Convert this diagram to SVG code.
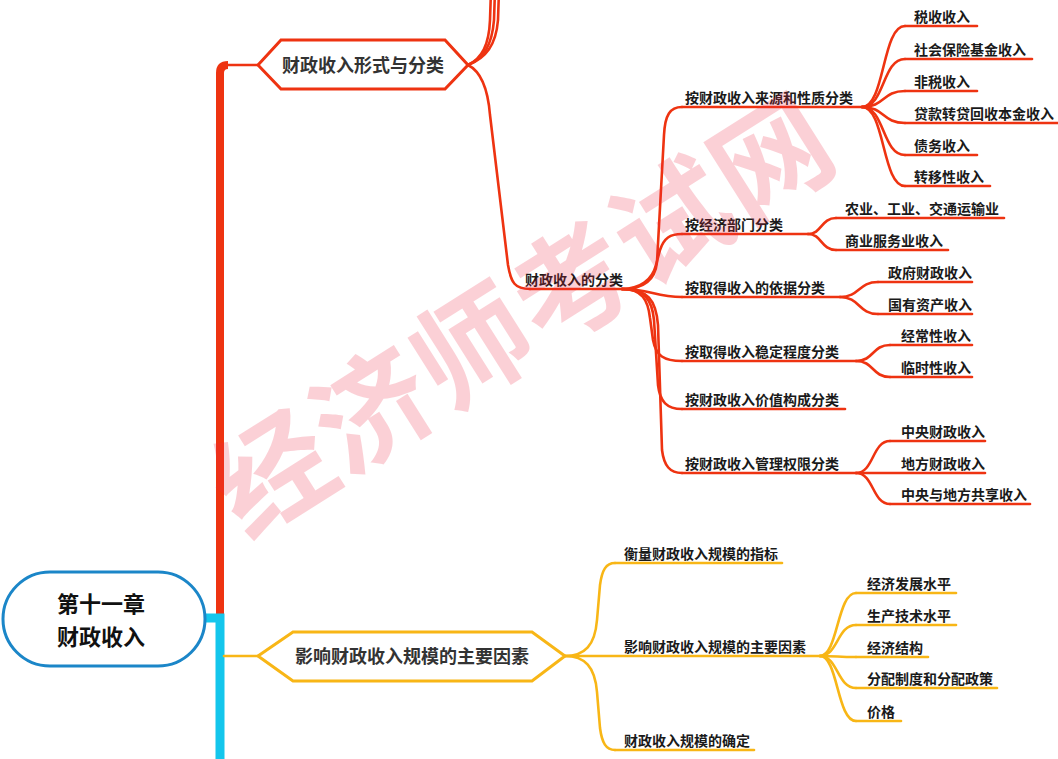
<svg xmlns="http://www.w3.org/2000/svg" width="1058" height="759" viewBox="0 0 1058 759">
<style>
.r{stroke:#ee3311;fill:none;stroke-width:2.6;stroke-linecap:round;stroke-linejoin:round}
.y{stroke:#f8b616;fill:none;stroke-width:2.6;stroke-linecap:round;stroke-linejoin:round}
.t{font-family:"Noto Sans CJK SC","Microsoft YaHei",sans-serif;font-size:14px;font-weight:700;fill:#1a1a1a}
.h{font-family:"Noto Sans CJK SC","Microsoft YaHei",sans-serif;font-size:18px;font-weight:700;fill:#333333;text-anchor:middle}
.root{font-family:"Noto Sans CJK SC","Microsoft YaHei",sans-serif;font-size:22px;font-weight:700;fill:#111111;text-anchor:middle}
.wm{font-family:"Noto Sans CJK SC",sans-serif;font-size:116px;font-weight:700;fill:#ee2844;opacity:0.21;text-anchor:middle}
</style>
<rect width="1058" height="759" fill="#ffffff"/>
<g id="connectors">
  <path d="M220,614 V73 Q220,65 228,65" fill="none" stroke="#ee3311" stroke-width="8"/>
  <path d="M205,618 H220 V765" fill="none" stroke="#14c6ec" stroke-width="9" stroke-linejoin="miter"/>
  <path class="r" d="M226,65 H258"/>
  <path class="y" d="M224,656 H258"/>
  <path class="r" d="M468,65 C482,58 489,45 490,20 L491,-10"/>
  <path class="r" d="M468,65 C484,58 492,45 494,20 L495,-10"/>
  <path class="r" d="M468,65 C486,58 496,45 498,20 L499,-10"/>
  <path class="r" d="M468,65 C482,72 488,90 490,115 L508,265 C511,283 515,289 530,289"/>
  <path class="r" d="M622,289 C642,289 655,282 657,262 L664,135 C665,115 670,107 682,107"/>
  <path class="r" d="M622,289 C640,289 652,280 656,265 L660,250 C664,238 670,234 682,234"/>
  <path class="r" d="M622,289 C650,289 655,297 682,297"/>
  <path class="r" d="M622,289 C642,289 648,300 650,318 L653,340 C656,356 664,361 682,361"/>
  <path class="r" d="M622,289 C645,289 652,300 654,320 L658,385 C660,402 667,409 682,409"/>
  <path class="r" d="M622,289 C648,289 656,300 658,325 L662,450 C664,466 670,473 682,473"/>
  <path class="r" d="M862,107 C885,107 882,26 905,26"/>
  <path class="r" d="M862,107 C885,107 882,59 905,59"/>
  <path class="r" d="M862,107 C885,107 882,91 905,91"/>
  <path class="r" d="M862,107 C885,107 882,123 905,123"/>
  <path class="r" d="M862,107 C885,107 882,155 905,155"/>
  <path class="r" d="M862,107 C885,107 882,186 905,186"/>
  <path class="r" d="M808,234 C822,234 821,218 836,218"/>
  <path class="r" d="M808,234 C822,234 821,250 836,250"/>
  <path class="r" d="M840,297 C860,297 858,282 878,282"/>
  <path class="r" d="M840,297 C860,297 858,314 878,314"/>
  <path class="r" d="M856,361 C874,361 872,345 890,345"/>
  <path class="r" d="M856,361 C874,361 872,377 890,377"/>
  <path class="r" d="M856,473 C874,473 872,441 890,441"/>
  <path class="r" d="M856,473 C874,473 872,504 890,504"/>
  <path class="y" d="M565,656 C585,656 595,645 597,620 L600,585 C602,570 606,563 615,563"/>
  <path class="y" d="M565,656 C585,656 595,667 597,692 L600,728 C602,743 606,750 615,750"/>
  <path class="y" d="M820,656 C838,656 837,593 856,593"/>
  <path class="y" d="M820,656 C838,656 837,625 856,625"/>
  <path class="y" d="M820,656 C838,656 837,657 856,657"/>
  <path class="y" d="M820,656 C838,656 837,688 856,688"/>
  <path class="y" d="M820,656 C838,656 837,721 856,721"/>
</g>
<g id="root">
  <rect x="3" y="572" width="202" height="94" rx="47" fill="#ffffff" stroke="#1b86c8" stroke-width="3"/>
  <text class="root" x="101" y="612">第十一章</text>
  <text class="root" x="101" y="645">财政收入</text>
</g>
<g id="n-xingshi">
  <polygon points="258,65 281,40 445,40 468,65 445,89 281,89" fill="#ffffff" stroke="#ee3311" stroke-width="3"/>
  <text class="h" x="363" y="72">财政收入形式与分类</text>
</g>
<g id="n-fenlei"><path class="r" d="M530,289 H622"/><text class="t" x="525" y="285">财政收入的分类</text></g>
<g id="n-laiyuan"><path class="r" d="M682,107 H862"/><text class="t" x="685" y="103">按财政收入来源和性质分类</text></g>
<g id="n-shui"><path class="r" d="M905,26 H977"/><text class="t" x="914" y="22">税收收入</text></g>
<g id="n-shebao"><path class="r" d="M905,59 H1032"/><text class="t" x="914" y="55">社会保险基金收入</text></g>
<g id="n-feishui"><path class="r" d="M905,91 H977"/><text class="t" x="914" y="87">非税收入</text></g>
<g id="n-daikuan"><path class="r" d="M905,123 H1060"/><text class="t" x="914" y="119">贷款转贷回收本金收入</text></g>
<g id="n-zhaiwu"><path class="r" d="M905,155 H977"/><text class="t" x="914" y="151">债务收入</text></g>
<g id="n-zhuanyi"><path class="r" d="M905,186 H990"/><text class="t" x="914" y="182">转移性收入</text></g>
<g id="n-bumen"><path class="r" d="M682,234 H808"/><text class="t" x="685" y="230">按经济部门分类</text></g>
<g id="n-nongye"><path class="r" d="M836,218 H1004"/><text class="t" x="845" y="214">农业、工业、交通运输业</text></g>
<g id="n-shangye"><path class="r" d="M836,250 H948"/><text class="t" x="845" y="246">商业服务业收入</text></g>
<g id="n-yiju"><path class="r" d="M682,297 H840"/><text class="t" x="685" y="293">按取得收入的依据分类</text></g>
<g id="n-zhengfu"><path class="r" d="M878,282 H972"/><text class="t" x="888" y="278">政府财政收入</text></g>
<g id="n-guoyou"><path class="r" d="M878,314 H972"/><text class="t" x="888" y="310">国有资产收入</text></g>
<g id="n-wending"><path class="r" d="M682,361 H856"/><text class="t" x="685" y="357">按取得收入稳定程度分类</text></g>
<g id="n-jingchang"><path class="r" d="M890,345 H972"/><text class="t" x="901" y="341">经常性收入</text></g>
<g id="n-linshi"><path class="r" d="M890,377 H972"/><text class="t" x="901" y="373">临时性收入</text></g>
<g id="n-jiazhi"><path class="r" d="M682,409 H845"/><text class="t" x="685" y="405">按财政收入价值构成分类</text></g>
<g id="n-quanxian"><path class="r" d="M682,473 H856"/><text class="t" x="685" y="469">按财政收入管理权限分类</text></g>
<g id="n-zhongyang"><path class="r" d="M890,441 H985"/><text class="t" x="901" y="437">中央财政收入</text></g>
<g id="n-difang"><path class="r" d="M856,473 H985"/><text class="t" x="901" y="469">地方财政收入</text></g>
<g id="n-gongxiang"><path class="r" d="M890,504 H1030"/><text class="t" x="901" y="500">中央与地方共享收入</text></g>
<g id="n-yingxiang">
  <polygon points="258,656 293,632 532,632 565,656 532,681 293,681" fill="#ffffff" stroke="#f8b616" stroke-width="3"/>
  <text class="h" x="412" y="663">影响财政收入规模的主要因素</text>
</g>
<g id="n-hengliang"><path class="y" d="M615,563 H782"/><text class="t" x="624" y="559">衡量财政收入规模的指标</text></g>
<g id="n-yinsu"><path class="y" d="M565,656 H820"/><text class="t" x="624" y="652">影响财政收入规模的主要因素</text></g>
<g id="n-queding"><path class="y" d="M615,750 H754"/><text class="t" x="624" y="746">财政收入规模的确定</text></g>
<g id="n-fazhan"><path class="y" d="M856,593 H956"/><text class="t" x="867" y="589">经济发展水平</text></g>
<g id="n-jishu"><path class="y" d="M856,625 H956"/><text class="t" x="867" y="621">生产技术水平</text></g>
<g id="n-jiegou"><path class="y" d="M856,657 H928"/><text class="t" x="867" y="653">经济结构</text></g>
<g id="n-fenpei"><path class="y" d="M856,688 H997"/><text class="t" x="867" y="684">分配制度和分配政策</text></g>
<g id="n-jiage"><path class="y" d="M856,721 H901"/><text class="t" x="867" y="717">价格</text></g>
<text class="wm" transform="translate(522,314) rotate(-32.3)" x="0" y="44" letter-spacing="2">经济师考试网</text>
</svg>
